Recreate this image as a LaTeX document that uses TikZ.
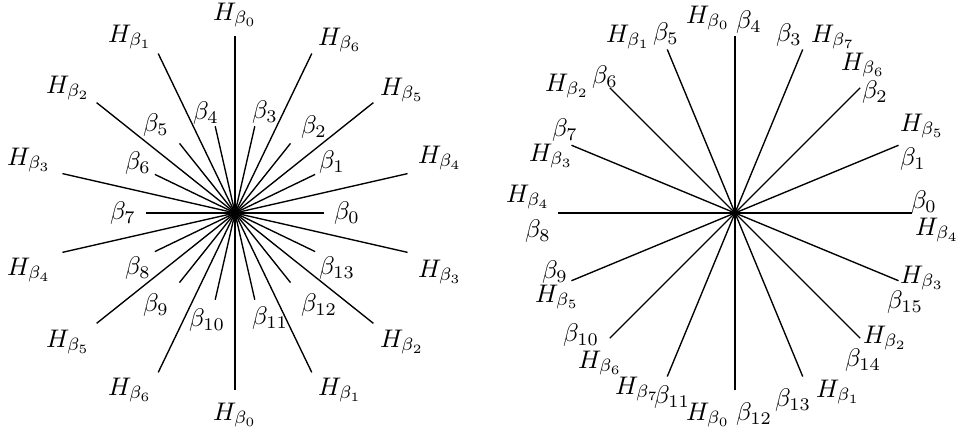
\documentclass[tikz,border=0pt]{standalone}
\usepackage{amsmath}
\usetikzlibrary{calc}

\begin{document}
\begin{tikzpicture}[x=0.44pt, y=0.44pt,
                wall/.style={line width=0.6pt},
                root/.style={line width=0.6pt},
                lbl/.style={inner sep=0pt, scale=1.12, transform shape}
            ]
                \useasboundingbox (0,0) rectangle (964,436);

                % left: I_2(7), seven walls and fourteen roots
                \coordinate (cL) at (235,223);
                \foreach \k in {0,...,13} {
                    \coordinate (wL\k) at ($(cL)+(90+\k*180/7:177)$);
                    \coordinate (rL\k) at ($(cL)+(\k*180/7:89)$);
                    \draw[wall] (cL) -- (wL\k);
                    \draw[root] (cL) -- (rL\k);
                }
                \foreach \x/\y/\i [count=\n] in {235/15/0, 130/37/1, 68/88/2, 29/160/3, 29/270/4, 68/342/5, 130/390/6,
                        235/415/0, 340/390/1, 402/342/2, 440/272/3, 440/158/4, 402/90/5, 340/40/6}
                    \node[lbl] (hL\n) at (\x,436-\y) {$H_{\beta_{\i}}$};
                \foreach \x/\y/\i in {347/213/0, 332/162/1, 314/127/2, 265/112/3, 206/113/4, 156/125/5, 138/163/6,
                        123/213/7, 138/268/8, 156/305/9, 207/320/10, 270/318/11, 319/305/12, 337/268/13}
                    \node[lbl] (bL\i) at (\x,436-\y) {$\beta_{\i}$};

                % right: I_2(8), eight walls, roots along them
                \coordinate (cR) at (735,223);
                \foreach \k in {0,...,15} {
                    \coordinate (wR\k) at ($(cR)+(\k*22.5:177)$);
                    \draw[wall] (cR) -- (wR\k);
                }
                \foreach \x/\y/\i [count=\n] in {708/18/0, 628/37/1, 567/86/2, 551/156/3, 528/197/4, 557/297/5, 600/363/6, 637/389/7,
                        708/415/0, 838/392/1, 885/338/2, 922/278/3, 937/230/4, 922/126/5, 863/65/6, 833/37/7}
                    \node[lbl] (hR\n) at (\x,436-\y) {$H_{\beta_{\i}}$};
                \foreach \x/\y/\i in {924/202/0, 913/159/1, 875/92/2, 789/35/3, 749/22/4, 666/34/5, 605/77/6, 565/130/7,
                        538/231/8, 555/272/9, 581/335/10, 672/397/11, 754/414/12, 793/400/13, 863/360/14, 905/302/15}
                    \node[lbl] (bR\i) at (\x,436-\y) {$\beta_{\i}$};
            \end{tikzpicture}
\end{document}
